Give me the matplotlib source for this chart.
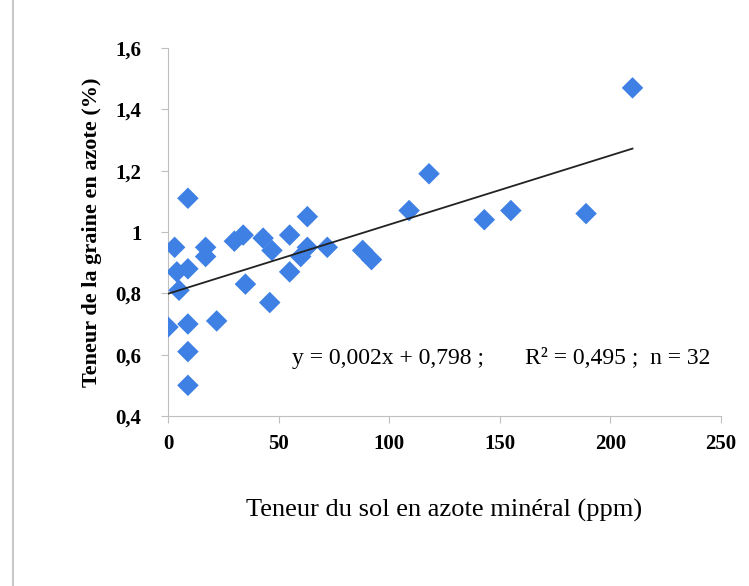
import numpy as np
import matplotlib.pyplot as plt
from matplotlib.ticker import FuncFormatter

# soil mineral N (ppm) vs grain N content (%)
azote_sol = [0, 3, 4, 5, 9, 9, 9, 9, 9, 17, 17, 22, 30, 34, 35, 43,
             47, 46, 55, 55, 60, 63, 63, 72, 88, 92, 109, 118, 143, 155, 189, 210]
azote_graine = [0.69, 0.95, 0.87, 0.81, 0.88, 1.11, 0.70, 0.61, 0.50, 0.95, 0.92, 0.71,
                0.97, 0.99, 0.83, 0.98, 0.94, 0.77, 0.99, 0.87, 0.92, 0.95, 1.05, 0.95,
                0.94, 0.91, 1.07, 1.19, 1.04, 1.07, 1.06, 1.47]
x_ticks = [0, 50, 100, 150, 200, 250]
y_ticks = [0.4, 0.6, 0.8, 1.0, 1.2, 1.4, 1.6]
equation = "y = 0,002x + 0,798 ;       R² = 0,495 ;  n = 32"

plt.rcParams['font.family'] = ['Liberation Serif', 'DejaVu Serif']

fig = plt.figure(figsize=(7.49, 5.86), dpi=100)
ax = fig.add_axes([168 / 749, 1 - 416 / 586, 553 / 749, 368 / 586])

x = np.array(azote_sol, dtype=float)
y = np.array(azote_graine)
ax.scatter(x, y, marker='D', s=120, color='#3f80e4', edgecolors='none', zorder=3)

slope, intercept = np.polyfit(x, y, 1)
xl = np.array([0, x.max()])
ax.plot(xl, slope * xl + intercept, color='#222222', lw=1.3, zorder=4)

ax.text(0.225, 0.14, equation, transform=ax.transAxes, fontsize=17)

ax.set_xlim(0, 250)
ax.set_ylim(0.4, 1.6)
ax.set_xticks(x_ticks)
ax.set_yticks(y_ticks)
ax.yaxis.set_major_formatter(FuncFormatter(lambda v, p: f"{v:g}".replace('.', ',')))
ax.tick_params(labelsize=15, color='#bfbfbf', length=5)
ax.tick_params(axis='x', pad=8)
ax.tick_params(axis='y', pad=14)
for lab in ax.get_xticklabels() + ax.get_yticklabels():
    lab.set_fontweight('bold')

for s in ['top', 'right']:
    ax.spines[s].set_visible(False)
for s in ['left', 'bottom']:
    ax.spines[s].set_color('#bfbfbf')

ax.set_xlabel("Teneur du sol en azote minéral (ppm)", fontsize=19, labelpad=32)
ax.set_ylabel("Teneur de la graine en azote (%)", fontsize=16, fontweight='bold', labelpad=10)

fig.add_artist(plt.Line2D([13 / 749, 13 / 749], [0, 1], color='#c8c8c8', lw=1.5))

fig.savefig('out.png', dpi=100)
